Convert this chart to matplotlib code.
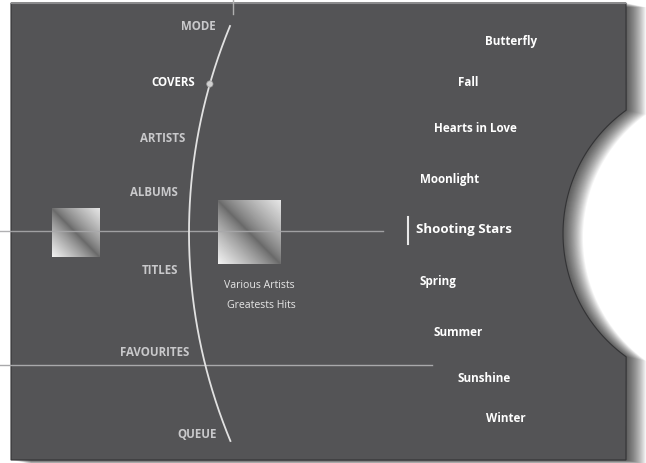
import numpy as np
import matplotlib
matplotlib.use('Agg')
import matplotlib.pyplot as plt
from matplotlib.path import Path
from matplotlib.patches import PathPatch, Circle

plt.rcParams['font.family'] = ['Open Sans', 'DejaVu Sans']

# menu on the wheel
menu_items = ['MODE', 'COVERS', 'ARTISTS', 'ALBUMS', 'TITLES', 'FAVOURITES', 'QUEUE']
menu_y = [27, 83, 138, 193, 271, 353, 435]
menu_right = [216, 195, 185, 178, 178, 189, 217]
menu_active = 'COVERS'

# song list
songs = ['Butterfly', 'Fall', 'Hearts in Love', 'Moonlight', 'Shooting Stars',
         'Spring', 'Summer', 'Sunshine', 'Winter']
song_y = [41, 83, 129, 179, 229, 282, 333, 378, 419]
song_left = [485, 458, 434, 420, 416, 420, 433, 458, 486]
song_active = 'Shooting Stars'

album_lines = ['Various Artists', 'Greatests Hits']

W, H = 646, 463
fig = plt.figure(figsize=(W / 100, H / 100), dpi=100)
ax = fig.add_axes([0, 0, 1, 1])
ax.set_xlim(0, W)
ax.set_ylim(H, 0)
ax.axis('off')
fig.patch.set_facecolor('white')

PANEL = '#545456'


def panel_path(dx=0, dy=0):
    x0, x1, y0, y1 = 11, 626, 3, 460
    cx, cy, r = 715, 233.5, 152
    a0 = np.arctan2(110 - cy, 626 - cx)
    a1 = np.arctan2(357 - cy, 626 - cx)
    if a1 < a0:
        a1 += 2 * np.pi
    # go from top point around the left side to bottom point
    t = np.linspace(a0, a0 - (2 * np.pi - (a1 - a0)), 80)
    arc = np.column_stack([cx + r * np.cos(t), cy + r * np.sin(t)])
    pts = [(x0, y0), (x1, y0)] + [tuple(p) for p in arc] + [(x1, y1), (x0, y1), (x0, y0)]
    pts = np.array(pts) + [dx, dy]
    codes = [Path.MOVETO] + [Path.LINETO] * (len(pts) - 2) + [Path.CLOSEPOLY]
    return Path(pts, codes)


# soft drop shadow
for i in range(1, 22):
    ax.add_patch(PathPatch(panel_path(i * 0.95, i * 0.2), facecolor='black',
                           edgecolor='none', alpha=0.045, zorder=1))

ax.add_patch(PathPatch(panel_path(), facecolor=PANEL, edgecolor='#333335',
                       linewidth=0.8, zorder=2))
ax.plot([11, 626], [3, 3], color='#8a8a8c', linewidth=0.8, zorder=3)

# wheel arc
cx, cy, R = 732, 233, 543
ys = np.linspace(26, 441, 200)
xs = cx - np.sqrt(R ** 2 - (ys - cy) ** 2)
ax.plot(xs, ys, color='#e2e2e2', linewidth=1.3, zorder=5)
ax.plot([233, 233], [0, 14], color='#b0b0b0', linewidth=1.0, zorder=5)

dot_y = menu_y[menu_items.index(menu_active)] + 1
dot_x = cx - np.sqrt(R ** 2 - (dot_y - cy) ** 2)
ax.add_patch(Circle((dot_x, dot_y), 3.2, facecolor='#d0d0d0', edgecolor='#9a9a9a',
                    linewidth=0.5, zorder=6))

for name, y, xr in zip(menu_items, menu_y, menu_right):
    col = 'white' if name == menu_active else '#c9c9cb'
    ax.text(xr, y, name, ha='right', va='center', fontsize=8.3,
            fontweight='bold', color=col, zorder=7)

# cover thumbnails with diagonal sheen
n = 100
u, v = np.meshgrid(np.linspace(0, 1, n), np.linspace(0, 1, n))
d = v - u
img = np.where(d > 0, 0.40 + 0.55 * d ** 0.8, 0.42 + 0.48 * (-d) ** 0.8)
for (x0, x1, y0, y1) in [(52, 100, 208, 257), (218, 281, 200, 264)]:
    ax.imshow(img, cmap='gray', vmin=0, vmax=1, extent=(x0, x1, y1, y0),
              interpolation='bilinear', zorder=4)
ax.set_xlim(0, W)
ax.set_ylim(H, 0)

# horizontal guide lines
ax.plot([0, 383], [231, 231], color='#a9a9ab', linewidth=1.0, alpha=0.9, zorder=4.5)
ax.plot([0, 432], [365, 365], color='#a9a9ab', linewidth=1.0, zorder=4.5)

ax.text(259, 285, album_lines[0], ha='center', va='center', fontsize=7.6,
        color='#e6e6e6', zorder=7)
ax.text(261, 305, album_lines[1], ha='center', va='center', fontsize=7.6,
        color='#e6e6e6', zorder=7)

for name, y, xl in zip(songs, song_y, song_left):
    big = name == song_active
    ax.text(xl, y, name, ha='left', va='center', fontsize=9.5 if big else 8.4,
            fontweight='bold', color='white', zorder=7)

ax.plot([408, 408], [217, 244], color='#e8e8e8', linewidth=1.5, zorder=7)

fig.savefig('out.png', dpi=100)
